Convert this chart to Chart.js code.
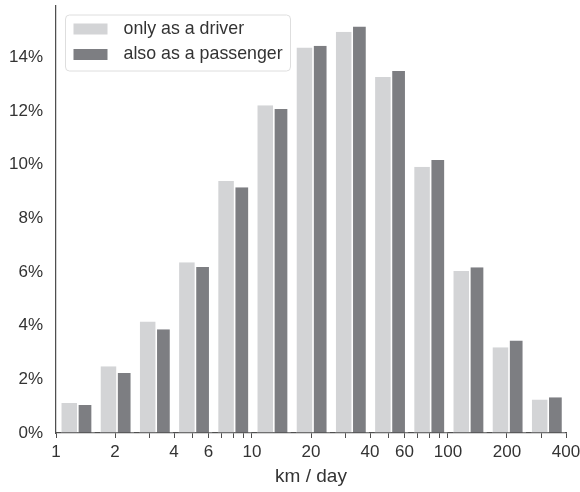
<!DOCTYPE html>
<html>
<head>
<meta charset="utf-8">
<script src="https://cdn.jsdelivr.net/npm/chart.js@4"></script>
<style>
  body { margin: 0; background: #fff; }
</style>
</head>
<body>
<canvas id="myChart" width="580" height="492"></canvas>
<script>
// histogram bins (km/day), log spaced
const binEdges = [1, 1.585, 2.512, 3.981, 6.310, 10, 15.85, 25.12, 39.81, 63.10, 100, 158.5, 251.2, 398.1];
const seriesNames = ["only as a driver", "also as a passenger"];
const driverOnly = [1.12, 2.49, 4.16, 6.37, 9.40, 12.22, 14.37, 14.96, 13.27, 9.93, 6.04, 3.20, 1.25];
const alsoPassenger = [1.04, 2.24, 3.87, 6.19, 9.16, 12.08, 14.44, 15.16, 13.50, 10.18, 6.18, 3.45, 1.33];
const xTicks = [1, 2, 3, 4, 5, 6, 7, 8, 9, 10, 20, 30, 40, 50, 60, 70, 80, 90, 100, 200, 300, 400];
const xTickLabels = [1, 2, 4, 6, 10, 20, 40, 60, 100, 200, 400];
const yTicks = [0, 2, 4, 6, 8, 10, 12, 14];
const xLabel = "km / day";

const textColor = "#333";
const axisColor = "#4f4f4f";
const lightGrey = "#d3d4d6";
const darkGrey = "#7d7e82";
Chart.defaults.font.family = "'Liberation Sans', Arial, sans-serif";
Chart.defaults.color = textColor;

// the two bars split each bin at its (linear) middle
const binMiddles = binEdges.slice(0, -1).map((a, i) => (a + binEdges[i + 1]) / 2);
const toPoints = (vals) => vals.map((v, i) => ({ x: binMiddles[i], y: v }));

// legend drawn as a box in the upper left of the plot
const boxLegend = {
    id: "boxLegend",
    afterDraw(chart) {
        const { ctx, chartArea } = chart;
        const x0 = chartArea.left + 9.5;
        const y0 = chartArea.top + 9;
        ctx.save();
        ctx.beginPath();
        ctx.roundRect(x0, y0, 225, 56, 4);
        ctx.fillStyle = "rgba(255,255,255,0.85)";
        ctx.fill();
        ctx.strokeStyle = "#dedede";
        ctx.lineWidth = 1;
        ctx.stroke();
        ctx.font = "17.8px 'Liberation Sans', Arial, sans-serif";
        ctx.textBaseline = "middle";
        chart.data.datasets.forEach((ds, i) => {
            const cy = y0 + 14 + i * 25.5;
            ctx.fillStyle = ds.backgroundColor;
            ctx.fillRect(x0 + 8, cy - 5.5, 34, 11);
            ctx.fillStyle = textColor;
            ctx.fillText(ds.label, x0 + 58, cy);
        });
        ctx.restore();
    }
};

const ctx = document.getElementById("myChart");
const chart = new Chart(ctx, {
    type: "bar",
    data: {
        datasets: [
            {
                label: seriesNames[0],
                data: toPoints(driverOnly),
                backgroundColor: lightGrey,
                borderColor: "#fff",
                borderWidth: { left: 0.7, right: 0.8, top: 0, bottom: 0 },
                inflateAmount: 0,
                barThickness: "flex",
                categoryPercentage: 0.868,
                barPercentage: 1
            },
            {
                label: seriesNames[1],
                data: toPoints(alsoPassenger),
                backgroundColor: darkGrey,
                borderColor: "#fff",
                borderWidth: { left: 0.8, right: 3.5, top: 0, bottom: 0 },
                inflateAmount: 0,
                barThickness: "flex",
                categoryPercentage: 0.868,
                barPercentage: 1
            }
        ]
    },
    options: {
        responsive: false,
        animation: false,
        layout: { padding: { left: 0, right: 14, top: 6, bottom: 0 } },
        plugins: {
            legend: { display: false },
            tooltip: { enabled: false }
        },
        scales: {
            x: {
                type: "logarithmic",
                min: 1,
                max: 400,
                offset: false,
                afterBuildTicks: (scale) => {
                    scale.ticks = xTicks.map((v) => ({ value: v }));
                },
                afterFit: (scale) => {
                    scale.height = 59;
                    scale.paddingLeft = 0;
                    scale.paddingRight = 0;
                },
                ticks: {
                    autoSkip: false,
                    maxRotation: 0,
                    padding: 4,
                    color: textColor,
                    font: { size: 17 },
                    callback: (v) => (xTickLabels.includes(v) ? String(v) : "")
                },
                grid: {
                    offset: false,
                    drawOnChartArea: false,
                    drawTicks: true,
                    tickLength: 5,
                    color: axisColor,
                    lineWidth: 1
                },
                border: { display: true, color: axisColor, width: 1.25 },
                title: {
                    display: true,
                    text: xLabel,
                    color: textColor,
                    font: { size: 19 },
                    padding: { top: 0, bottom: 4 }
                }
            },
            y: {
                min: 0,
                max: 15.92,
                afterBuildTicks: (scale) => {
                    scale.ticks = yTicks.map((v) => ({ value: v }));
                },
                afterFit: (scale) => {
                    scale.width = 56;
                    scale.paddingTop = 0;
                    scale.paddingBottom = 0;
                },
                ticks: {
                    padding: 13,
                    color: textColor,
                    font: { size: 17 },
                    callback: (v) => v + "%"
                },
                grid: {
                    drawOnChartArea: false,
                    drawTicks: false
                },
                border: { display: true, color: axisColor, width: 1.25 }
            }
        }
    },
    plugins: [boxLegend]
});
</script>
</body>
</html>
